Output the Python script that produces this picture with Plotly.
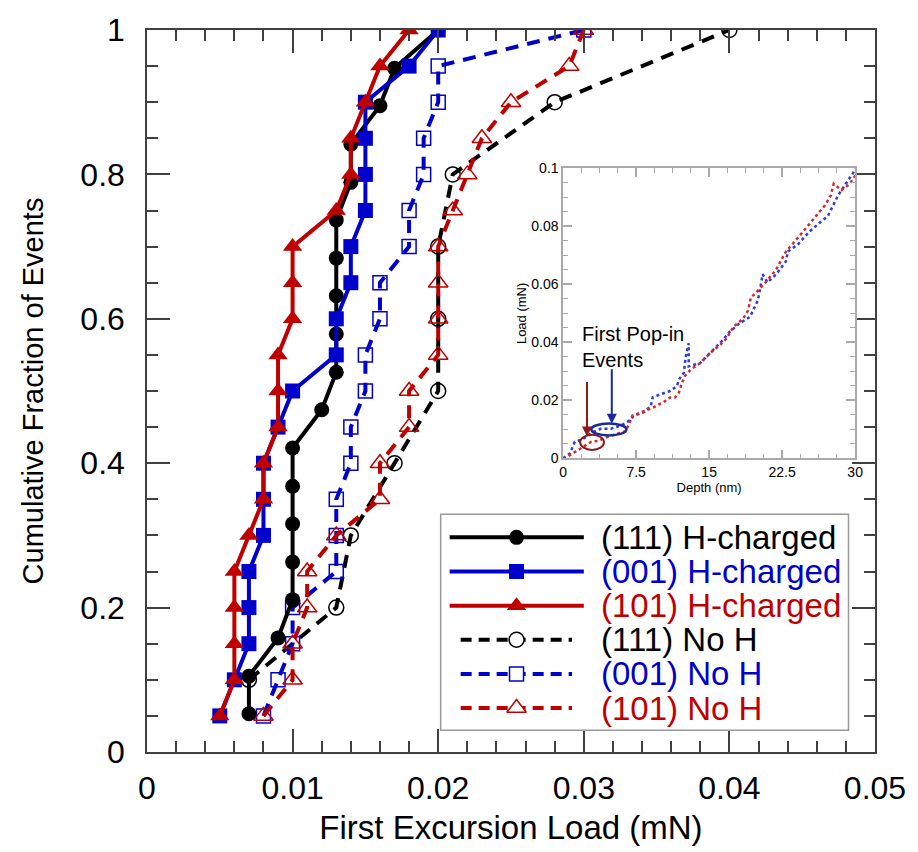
import plotly.graph_objects as go

# ---------------- main chart data ----------------
frac_19 = [0.053, 0.105, 0.158, 0.211, 0.263, 0.316, 0.368, 0.421, 0.474, 0.526,
           0.579, 0.632, 0.684, 0.737, 0.789, 0.842, 0.895, 0.947, 1.0]
frac_20 = [0.05, 0.10, 0.15, 0.20, 0.25, 0.30, 0.35, 0.40, 0.45, 0.50,
           0.55, 0.60, 0.65, 0.70, 0.75, 0.80, 0.85, 0.90, 0.95, 1.0]
frac_10 = [0.1, 0.2, 0.3, 0.4, 0.5, 0.6, 0.7, 0.8, 0.9, 1.0]

load_111_h = [0.007, 0.007, 0.009, 0.010, 0.010, 0.010, 0.010, 0.010, 0.012, 0.013,
              0.013, 0.013, 0.013, 0.013, 0.014, 0.014, 0.016, 0.017, 0.020]
load_001_h = [0.005, 0.006, 0.007, 0.007, 0.007, 0.008, 0.008, 0.008, 0.009, 0.010,
              0.013, 0.013, 0.014, 0.014, 0.015, 0.015, 0.015, 0.015, 0.018, 0.020]
load_101_h = [0.005, 0.006, 0.006, 0.006, 0.006, 0.007, 0.008, 0.008, 0.009, 0.009,
              0.009, 0.010, 0.010, 0.010, 0.013, 0.014, 0.014, 0.015, 0.016, 0.018]
load_111_n = [0.007, 0.013, 0.014, 0.017, 0.020, 0.020, 0.020, 0.021, 0.028, 0.040]
load_001_n = [0.008, 0.009, 0.010, 0.010, 0.013, 0.013, 0.013, 0.014, 0.014, 0.015,
              0.015, 0.016, 0.016, 0.018, 0.018, 0.019, 0.019, 0.020, 0.020, 0.030]
load_101_n = [0.008, 0.010, 0.010, 0.011, 0.011, 0.013, 0.016, 0.016, 0.018, 0.018,
              0.020, 0.020, 0.020, 0.020, 0.021, 0.022, 0.023, 0.025, 0.029, 0.030]

series_labels = ["(111) H-charged", "(001) H-charged", "(101) H-charged",
                 "(111) No H", "(001) No H", "(101) No H"]

# ---------------- inset data (load-depth curves) ----------------
depth_blue = [0, 0.7, 1.2, 1.7, 2.4, 3.0, 3.9, 4.9, 5.9, 6.6, 7.3, 8.3, 9.0, 9.2, 10.0,
              11.0, 11.7, 11.9, 12.4, 12.6, 12.9, 12.9, 14.1, 15.4, 16.4, 17.1, 18.1,
              19.2, 19.7, 20.0, 20.2, 20.5, 21.0, 21.9, 22.9, 23.1, 24.1, 25.3, 26.3,
              27.2, 28.3, 29.0, 29.8, 30.0]
load_blue = [0, 0.0017, 0.0057, 0.0062, 0.0074, 0.009, 0.0102, 0.0102, 0.0113, 0.0125,
             0.0147, 0.0159, 0.018, 0.021, 0.0221, 0.0232, 0.025, 0.0272, 0.0295, 0.035,
             0.0397, 0.0317, 0.0329, 0.0374, 0.0408, 0.0436, 0.0465, 0.0488, 0.0522,
             0.0544, 0.0578, 0.0635, 0.0607, 0.0635, 0.068, 0.0714, 0.0737, 0.0782,
             0.0811, 0.0836, 0.091, 0.0945, 0.0985, 0.1]
depth_red = [0, 0.2, 0.85, 1.5, 2.2, 2.9, 3.6, 4.6, 5.6, 6.4, 6.8, 7.1, 7.6, 8.5, 9.3,
             9.8, 10.3, 11.0, 11.5, 11.9, 12.2, 12.5, 13.1, 14.1, 15.1, 16.1, 16.8, 17.5,
             18.5, 19.0, 19.3, 19.7, 20.8, 21.9, 22.9, 24.1, 25.1, 25.9, 26.9, 27.5,
             27.8, 28.6, 29.4, 30.0]
load_red = [0, 0.0002, 0.0014, 0.0028, 0.0045, 0.0057, 0.006, 0.0074, 0.0085, 0.0093,
            0.012, 0.0147, 0.0153, 0.0164, 0.0176, 0.0185, 0.0193, 0.021, 0.021, 0.0227,
            0.026, 0.0283, 0.0306, 0.0329, 0.0363, 0.039, 0.0414, 0.0454, 0.0482, 0.051,
            0.0556, 0.0567, 0.0607, 0.0652, 0.0714, 0.076, 0.08, 0.0833, 0.0873, 0.0907,
            0.0947, 0.0925, 0.0945, 0.0975]

# legend sample rows (row index in the hand-built legend)
legend_rows = [0, 1, 2, 3, 4, 5]

BLACK = "#000000"
BLUE = "#0000CC"
RED = "#C00000"
FONT = "Liberation Sans, Arial, sans-serif"
AXC = "#404040"

fig = go.Figure()

main = [
    # label, x, y, color, symbol, size, dashed
    (series_labels[3], load_111_n, frac_10, BLACK, "circle-open", 15, True),
    (series_labels[4], load_001_n, frac_20, BLUE, "square-open", 14, True),
    (series_labels[5], load_101_n, frac_20, RED, "triangle-up-open", 17, True),
    (series_labels[0], load_111_h, frac_19, BLACK, "circle", 15, False),
    (series_labels[1], load_001_h, frac_20, BLUE, "square", 15, False),
    (series_labels[2], load_101_h, frac_20, RED, "triangle-up", 17, False),
]
for name, xs, ys, col, sym, size, dashed in main:
    fig.add_trace(go.Scatter(
        x=xs, y=ys, name=name, mode="lines+markers",
        line=dict(color=col, width=4, dash="13px,9px" if dashed else "solid"),
        marker=dict(symbol=sym, size=size, color=col,
                    line=dict(width=1.5 if dashed else 0, color=col)),
        showlegend=False, xaxis="x", yaxis="y"))

# inset curves
fig.add_trace(go.Scatter(x=depth_blue, y=load_blue, mode="lines",
                         line=dict(color="#2a3ce0", width=2.5, dash="dot"),
                         showlegend=False, xaxis="x2", yaxis="y2"))
fig.add_trace(go.Scatter(x=depth_red, y=load_red, mode="lines",
                         line=dict(color="#d42a2a", width=2.5, dash="dot"),
                         showlegend=False, xaxis="x2", yaxis="y2"))

# hand-built legend (row spacing of the original is tighter than plotly's legend allows)
leg_styles = [
    (BLACK, "circle", 15, False), (BLUE, "square", 15, False), (RED, "triangle-up", 17, False),
    (BLACK, "circle", 15, True), (BLUE, "square", 14, True), (RED, "triangle-up", 17, True),
]
for row, label, (col, sym, size, dashed) in zip(legend_rows, series_labels, leg_styles):
    x0, x1 = (0.049, 0.322) if dashed else (0.022, 0.351)
    fig.add_trace(go.Scatter(x=[x0, x1], y=[row, row], mode="lines",
                             line=dict(color=col, width=4, dash="11px,7px" if dashed else "solid"),
                             showlegend=False, xaxis="x3", yaxis="y3", hoverinfo="skip"))
    fig.add_trace(go.Scatter(x=[0.186], y=[row], mode="markers",
                             marker=dict(symbol=sym, size=size,
                                         color="white" if dashed else col,
                                         line=dict(width=1.5 if dashed else 0, color=col)),
                             showlegend=False, xaxis="x3", yaxis="y3", hoverinfo="skip"))
    fig.add_annotation(x=0.387, y=row, xref="x3", yref="y3", text=label, showarrow=False,
                       xanchor="left", yanchor="middle",
                       font=dict(family=FONT, size=33, color=col))

fig.add_shape(type="rect", xref="x3 domain", yref="y3 domain", x0=0, x1=1, y0=0, y1=1,
              line=dict(color="#9a9a9a", width=1.5), fillcolor="rgba(0,0,0,0)")

# inset annotations
fig.add_annotation(x=1.7, y=0.0475, xref="x2", yref="y2", text="First Pop-in<br>Events",
                   showarrow=False, xanchor="left", yanchor="top", align="left",
                   font=dict(family=FONT, size=20, color="black"))
fig.add_annotation(x=2.45, y=0.0075, xref="x2", yref="y2", ax=0, ay=-56, showarrow=True,
                   arrowhead=2, arrowsize=1, arrowwidth=2, arrowcolor="#8b1a1a", text="")
fig.add_annotation(x=5.0, y=0.0119, xref="x2", yref="y2", ax=0, ay=-56, showarrow=True,
                   arrowhead=2, arrowsize=1, arrowwidth=2, arrowcolor="#1a2a9a", text="")
fig.add_shape(type="circle", xref="x2", yref="y2", x0=1.75, x1=4.2, y0=0.0029, y1=0.0081,
              line=dict(color="#8b1a1a", width=2))
fig.add_shape(type="circle", xref="x2", yref="y2", x0=2.9, x1=6.5, y0=0.0079, y1=0.0120,
              line=dict(color="#1a2a9a", width=2.5))

fig.update_layout(
    width=918, height=852,
    margin=dict(l=147, r=38, t=27, b=95),
    paper_bgcolor="white", plot_bgcolor="white",
    font=dict(family=FONT, color="black"),
    showlegend=False,
    xaxis=dict(range=[0, 0.05], dtick=0.01, tick0=0, showgrid=False, zeroline=False,
               showline=True, linecolor=AXC, linewidth=1.5, mirror="ticks",
               ticks="inside", ticklen=23, tickwidth=1.5, tickcolor=AXC,
               tickfont=dict(size=32), ticklabelstandoff=7,
               minor=dict(dtick=0.002, tick0=0, ticks="inside", ticklen=11, tickwidth=1.5,
                          tickcolor=AXC, showgrid=False),
               title=dict(text="First Excursion Load (mN)", font=dict(size=33), standoff=11)),
    yaxis=dict(range=[0, 1], dtick=0.2, tick0=0, showgrid=False, zeroline=False,
               showline=True, linecolor=AXC, linewidth=1.5, mirror="ticks",
               ticks="inside", ticklen=23, tickwidth=1.5, tickcolor=AXC,
               tickfont=dict(size=32), ticklabelstandoff=14,
               minor=dict(dtick=0.05, tick0=0, ticks="inside", ticklen=11, tickwidth=1.5,
                          tickcolor=AXC, showgrid=False),
               title=dict(text="Cumulative Fraction of Events", font=dict(size=29), standoff=28)),
    xaxis2=dict(domain=[0.5716, 0.9727], anchor="y2", range=[0, 30], dtick=7.5, tick0=0,
                showgrid=False, zeroline=False, showline=True, linecolor="#aaaaaa",
                linewidth=1.5, mirror="ticks", ticks="inside", ticklen=9, tickwidth=1.5,
                tickcolor="#aaaaaa", tickfont=dict(size=14),
                minor=dict(dtick=1.875, tick0=0, ticks="inside", ticklen=5, tickwidth=1,
                           tickcolor="#aaaaaa", showgrid=False),
                title=dict(text="Depth (nm)", font=dict(size=13), standoff=4)),
    yaxis2=dict(domain=[0.4068, 0.8082], anchor="x2", range=[0, 0.1], dtick=0.02, tick0=0,
                showgrid=False, zeroline=False, showline=True, linecolor="#aaaaaa",
                linewidth=1.5, mirror="ticks", ticks="inside", ticklen=9, tickwidth=1.5,
                tickcolor="#aaaaaa", tickfont=dict(size=14),
                minor=dict(dtick=0.005, tick0=0, ticks="inside", ticklen=5, tickwidth=1,
                           tickcolor="#aaaaaa", showgrid=False),
                title=dict(text="Load (mN)", font=dict(size=13), standoff=2)),
    xaxis3=dict(domain=[0.4034, 0.9636], anchor="y3", range=[0, 1], visible=False,
                fixedrange=True),
    yaxis3=dict(domain=[0.0301, 0.3292], anchor="x3", range=[5.65, -0.675], visible=False,
                fixedrange=True),
)

fig.write_html("out.html", config={"displayModeBar": False},
               post_script="document.body.style.margin='0';document.body.style.overflow='hidden';")
